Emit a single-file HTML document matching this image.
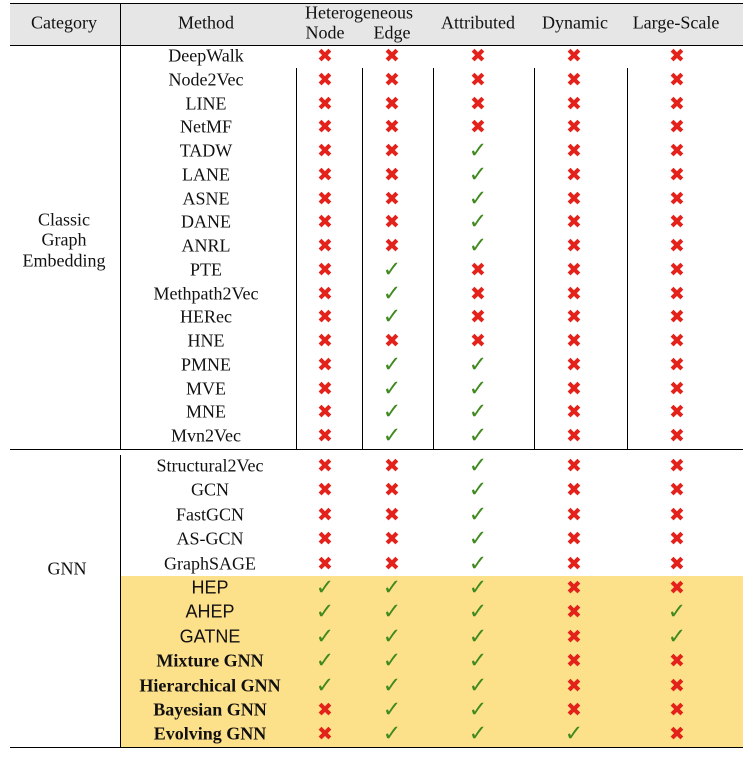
<!DOCTYPE html>
<html><head><meta charset="utf-8"><style>
body{margin:0;width:743px;height:757px;background:#fff;position:relative;overflow:hidden;font-family:"Liberation Serif",serif;font-size:18px;color:#111}
.t{position:absolute;transform:translate(-50%,-50%);white-space:nowrap}
.x{color:#e3231b;font-family:"DejaVu Sans",sans-serif;font-size:19px;font-weight:bold}
.c{color:#3f8a1f;font-family:"DejaVu Sans",sans-serif;font-size:22px;font-weight:bold;font-style:italic}
.h{position:absolute;background:#000;height:1.3px}
.v{position:absolute;background:#000;width:1px}
.s{font-family:"Liberation Sans",sans-serif;font-size:18px}
.b{font-weight:bold}
</style></head><body>
<div style="position:absolute;left:10px;top:4px;width:733px;height:41px;background:#e6e6e6"></div>
<div style="position:absolute;left:120px;top:576px;width:623px;height:171px;background:#fde08a"></div>
<div class="h" style="left:10px;top:3px;width:733px"></div>
<div class="h" style="left:10px;top:45px;width:733px"></div>
<div class="h" style="left:10px;top:449px;width:733px"></div>
<div class="h" style="left:10px;top:747px;width:733px"></div>
<div class="v" style="left:120px;top:3px;height:42px"></div>
<div class="v" style="left:120px;top:45px;height:404px"></div>
<div class="v" style="left:120px;top:455px;height:292px"></div>
<div class="v" style="left:296px;top:68px;height:381px"></div>
<div class="v" style="left:362px;top:68px;height:381px"></div>
<div class="v" style="left:433px;top:68px;height:381px"></div>
<div class="v" style="left:534px;top:68px;height:381px"></div>
<div class="v" style="left:627px;top:68px;height:381px"></div>
<div class="t" style="left:64px;top:23px">Category</div>
<div class="t" style="left:206px;top:23px">Method</div>
<div class="t" style="left:359px;top:13px">Heterogeneous</div>
<div class="t" style="left:325px;top:33px">Node</div>
<div class="t" style="left:392px;top:33px">Edge</div>
<div class="t" style="left:478px;top:23px">Attributed</div>
<div class="t" style="left:575px;top:23px">Dynamic</div>
<div class="t" style="left:676px;top:23px">Large-Scale</div>
<div class="t" style="left:64px;top:220px">Classic</div>
<div class="t" style="left:64px;top:240px">Graph</div>
<div class="t" style="left:64px;top:261px">Embedding</div>
<div class="t" style="left:67px;top:569px">GNN</div>
<div id="rows"></div>
<script>
var X='<span class="x">✖</span>',C='<span class="c">✓</span>';
var rows=[
["DeepWalk","xxxxx"],["Node2Vec","xxxxx"],["LINE","xxxxx"],["NetMF","xxxxx"],["TADW","xxcxx"],["LANE","xxcxx"],["ASNE","xxcxx"],["DANE","xxcxx"],["ANRL","xxcxx"],["PTE","xcxxx"],["Methpath2Vec","xcxxx"],["HERec","xcxxx"],["HNE","xxxxx"],["PMNE","xccxx"],["MVE","xccxx"],["MNE","xccxx"],["Mvn2Vec","xccxx"]];
var g=[["Structural2Vec","xxcxx",""],["GCN","xxcxx",""],["FastGCN","xxcxx",""],["AS-GCN","xxcxx",""],["GraphSAGE","xxcxx",""],["HEP","cccxx","s"],["AHEP","cccxc","s"],["GATNE","cccxc","s"],["Mixture GNN","cccxx","b"],["Hierarchical GNN","cccxx","b"],["Bayesian GNN","xccxx","b"],["Evolving GNN","xcccx","b"]];
var cx=[325,392,478,574,677],h='';
rows.forEach(function(r,i){var y=56+i*23.75;h+='<div class="t" style="left:206px;top:'+y+'px">'+r[0]+'</div>';for(var k=0;k<5;k++)h+='<div class="t" style="left:'+cx[k]+'px;top:'+y+'px">'+(r[1][k]=='x'?X:C)+'</div>';});
g.forEach(function(r,i){var y=466+i*24.4;h+='<div class="t '+r[2]+'" style="left:210px;top:'+y+'px">'+r[0]+'</div>';for(var k=0;k<5;k++)h+='<div class="t" style="left:'+cx[k]+'px;top:'+y+'px">'+(r[1][k]=='x'?X:C)+'</div>';});
document.getElementById('rows').innerHTML=h;
</script>
</body></html>
